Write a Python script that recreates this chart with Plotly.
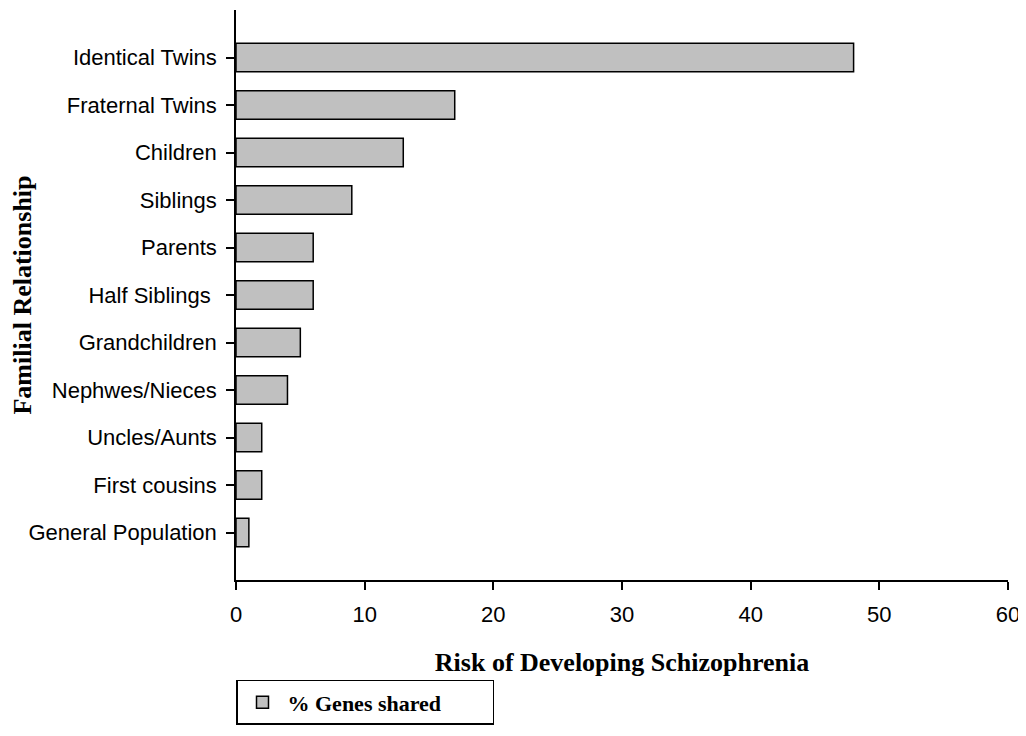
import plotly.graph_objects as go

# categories listed bottom -> top
relationships = ["General Population", "First cousins", "Uncles/Aunts", "Nephwes/Nieces",
                 "Grandchildren", "Half Siblings ", "Parents", "Siblings", "Children",
                 "Fraternal Twins", "Identical Twins"]
risk_pct = [1, 2, 2, 4, 5, 6, 6, 9, 13, 17, 48]
x_ticks = [0, 10, 20, 30, 40, 50, 60]

fig = go.Figure()
fig.add_trace(go.Bar(
    y=relationships,
    x=risk_pct,
    orientation='h',
    name='% Genes shared',
    width=0.6,
    marker=dict(color='#C0C0C0', line=dict(color='#000000', width=1.5)),
))

axis_font = dict(family='Liberation Sans, Arial', size=22, color='black')
title_font = dict(family='Liberation Serif, Times New Roman', size=26, color='black')

fig.update_xaxes(
    range=[0, 60], tickvals=x_ticks, showgrid=False, zeroline=False,
    showline=True, linecolor='black', linewidth=1.5,
    ticks='outside', ticklen=8, tickwidth=1.5, tickcolor='black',
    tickfont=axis_font, ticklabelstandoff=6,
    title=dict(text='<b>Risk of Developing Schizophrenia</b>', font=title_font, standoff=27),
)
fig.update_yaxes(
    type='category', range=[-1, 11], showgrid=False, zeroline=False,
    showline=True, linecolor='black', linewidth=1.5,
    ticks='outside', ticklen=8, tickwidth=1.5, tickcolor='black',
    tickfont=axis_font, ticklabelstandoff=5,
    title=dict(text='<b>Familial Relationship</b>', font=title_font, standoff=0),
)

# page body has an 8px margin, so the figure is trimmed by that amount
fig.update_layout(
    width=1018, height=728,
    margin=dict(l=228, r=18, t=2, b=156),
    plot_bgcolor='white', paper_bgcolor='white',
    showlegend=True,
    legend=dict(
        x=0, y=-0.1754, xanchor='left', yanchor='top',
        bordercolor='black', borderwidth=1.5,
        font=dict(family='Liberation Serif, Times New Roman', size=22, color='black', weight='bold'),
        entrywidth=200, orientation='h', itemwidth=40,
    ),
)

fig.write_html("out.html")
